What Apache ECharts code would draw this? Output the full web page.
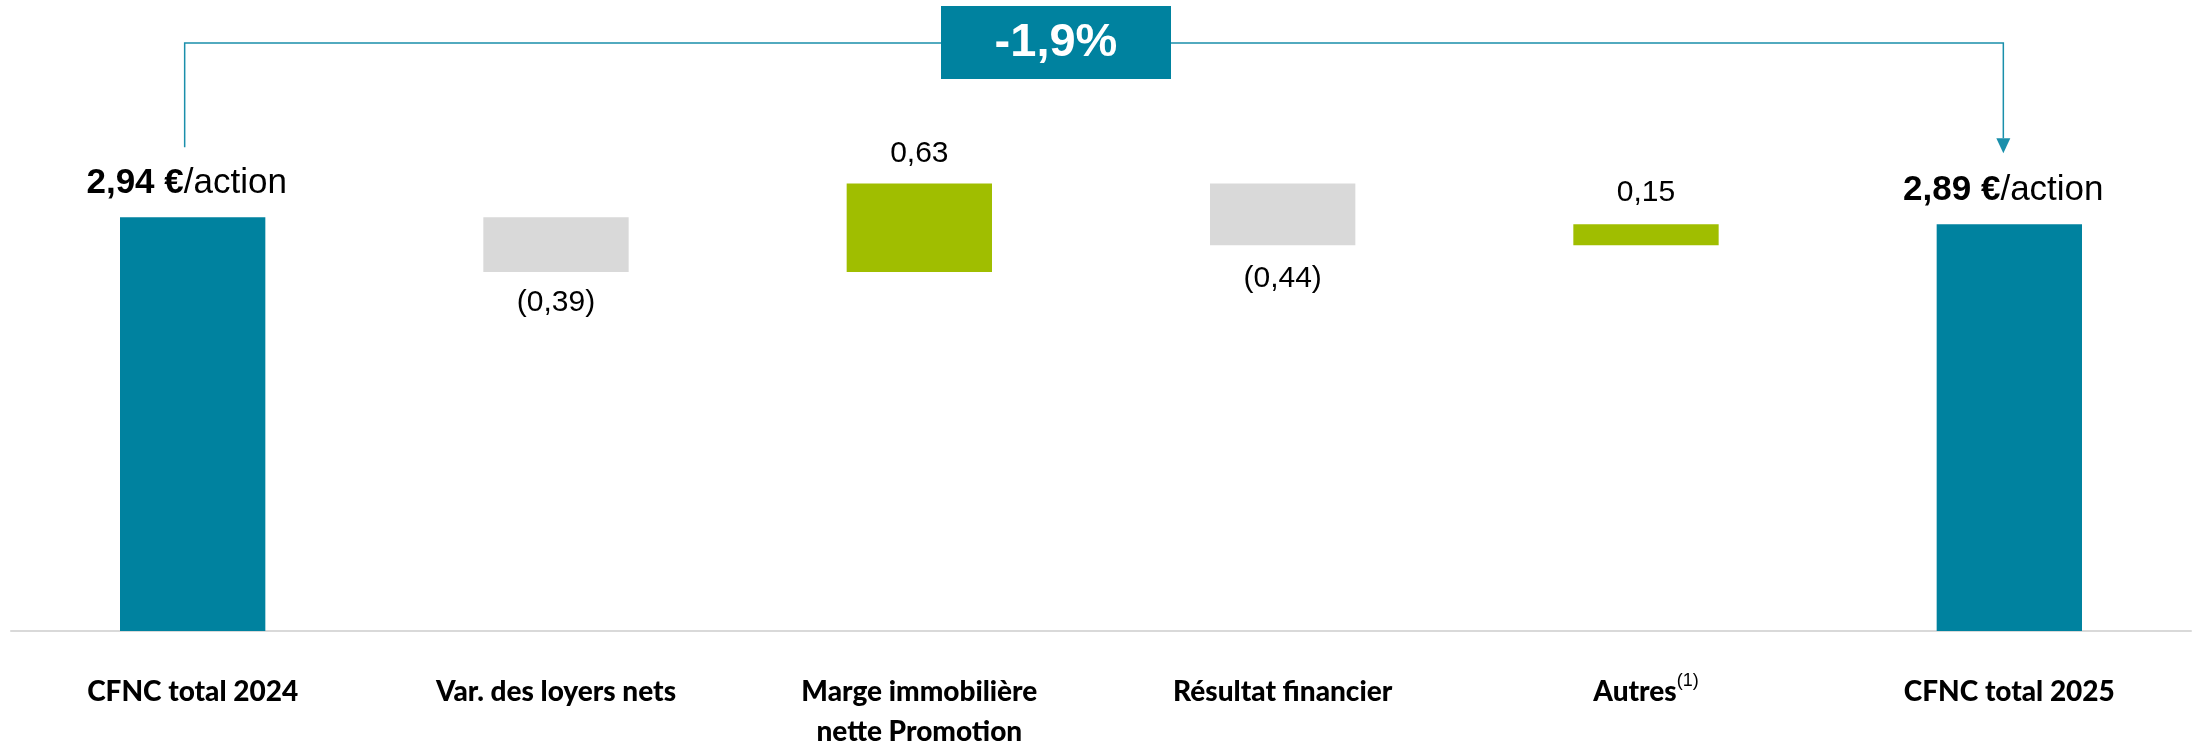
<!DOCTYPE html>
<html>
<head>
<meta charset="utf-8">
<script src="https://cdn.jsdelivr.net/npm/echarts@6/dist/echarts.min.js"></script>
<style>
  html, body { margin: 0; padding: 0; background: #fff; }
  #chart { width: 2197px; height: 744px; }
</style>
</head>
<body>
<div id="chart"></div>
<script>
  // data
  const categories = ['CFNC total 2024', 'Var. des loyers nets', 'Marge immobilière\nnette Promotion', 'Résultat financier', 'Autres', 'CFNC total 2025']
  const footnotes = ['', '', '', '', '(1)', '']
  const values = [2.94, -0.39, 0.63, -0.44, 0.15, 2.89]
  const isTotal = [true, false, false, false, false, true]
  const valueLabels = ['2,94', '(0,39)', '0,63', '(0,44)', '0,15', '2,89']
  const changeLabel = '-1,9%'

  const TEAL = '#00829F'
  const GREEN = '#A0BE00'
  const GREY = '#D9D9D9'
  const labelGap = [14, 14, 13, 16, 14, 14]

  // waterfall: invisible base + visible step
  let base = []
  let steps = []
  let running = 0
  values.forEach((v, i) => {
    if (isTotal[i]) {
      base.push(0)
      running = v
      steps.push({
        value: v,
        itemStyle: { color: TEAL },
        label: {
          show: true,
          position: 'top',
          distance: labelGap[i],
          offset: [-6, 0],
          formatter: '{b|' + valueLabels[i] + ' €}{r|/action}',
          rich: {
            b: { fontFamily: 'Liberation Sans', fontWeight: 'bold', fontSize: 35, color: '#000', lineHeight: 40 },
            r: { fontFamily: 'Liberation Sans', fontSize: 35, color: '#000', lineHeight: 40 }
          }
        }
      })
    } else {
      base.push(v >= 0 ? running : running + v)
      running += v
      steps.push({
        value: Math.abs(v),
        itemStyle: { color: v >= 0 ? GREEN : GREY },
        label: {
          show: true,
          position: v >= 0 ? 'top' : 'bottom',
          distance: labelGap[i],
          formatter: valueLabels[i],
          fontFamily: 'Liberation Sans',
          fontSize: 30,
          lineHeight: 34,
          color: '#000'
        }
      })
    }
  })

  let chart = echarts.init(document.getElementById('chart'))
  chart.setOption({
    animation: false,
    grid: { left: 11, right: 6, top: 68, bottom: 113, outerBoundsMode: 'none' },
    xAxis: {
      type: 'category',
      data: categories,
      axisLine: { lineStyle: { color: GREY, width: 2 } },
      axisTick: { show: false },
      axisLabel: {
        interval: 0,
        margin: 41,
        color: '#000',
        fontFamily: 'Lato',
        fontWeight: 900,
        fontSize: 28,
        lineHeight: 40,
        formatter: function (val, idx) {
          if (footnotes[idx]) {
            return '{a|' + val + '}{s|' + footnotes[idx] + '}'
          }
          return val
        },
        rich: {
          a: { fontFamily: 'Lato', fontWeight: 900, fontSize: 28, lineHeight: 40, color: '#000' },
          s: { fontFamily: 'Liberation Sans', fontWeight: 'normal', fontSize: 18, lineHeight: 12, verticalAlign: 'top', color: '#000' }
        }
      }
    },
    yAxis: {
      type: 'value',
      min: 0,
      max: 4,
      show: false,
      splitLine: { show: false }
    },
    series: [
      {
        type: 'bar',
        stack: 'wf',
        data: base,
        barWidth: '40%',
        itemStyle: { color: 'transparent' },
        silent: true
      },
      {
        type: 'bar',
        stack: 'wf',
        data: steps,
        barWidth: '40%'
      }
    ]
  })

  // bracket with the variation box
  let xStart = chart.convertToPixel({ xAxisIndex: 0 }, 0) - 8
  let xEnd = chart.convertToPixel({ xAxisIndex: 0 }, categories.length - 1) - 6
  let yLine = 43
  let yStart = chart.convertToPixel({ yAxisIndex: 0 }, values[0]) - 70
  let yTip = chart.convertToPixel({ yAxisIndex: 0 }, values[values.length - 1]) - 71
  chart.setOption({
    graphic: [
      {
        type: 'polyline',
        shape: { points: [[xStart, yStart], [xStart, yLine], [xEnd, yLine], [xEnd, yTip - 15]] },
        style: { stroke: '#1A8FAB', lineWidth: 1.5, fill: null },
        z: 10
      },
      {
        type: 'polygon',
        shape: { points: [[xEnd - 7, yTip - 15], [xEnd + 7, yTip - 15], [xEnd, yTip]] },
        style: { fill: '#1A8FAB' },
        z: 10
      },
      {
        type: 'rect',
        shape: { x: 941, y: 6, width: 230, height: 73 },
        style: { fill: TEAL },
        z: 11
      },
      {
        type: 'text',
        x: 1056,
        y: 43,
        style: {
          text: changeLabel,
          fill: '#fff',
          fontFamily: 'Liberation Sans',
          fontWeight: 'bold',
          fontSize: 47,
          align: 'center',
          verticalAlign: 'middle'
        },
        z: 12
      }
    ]
  })
</script>
</body>
</html>
